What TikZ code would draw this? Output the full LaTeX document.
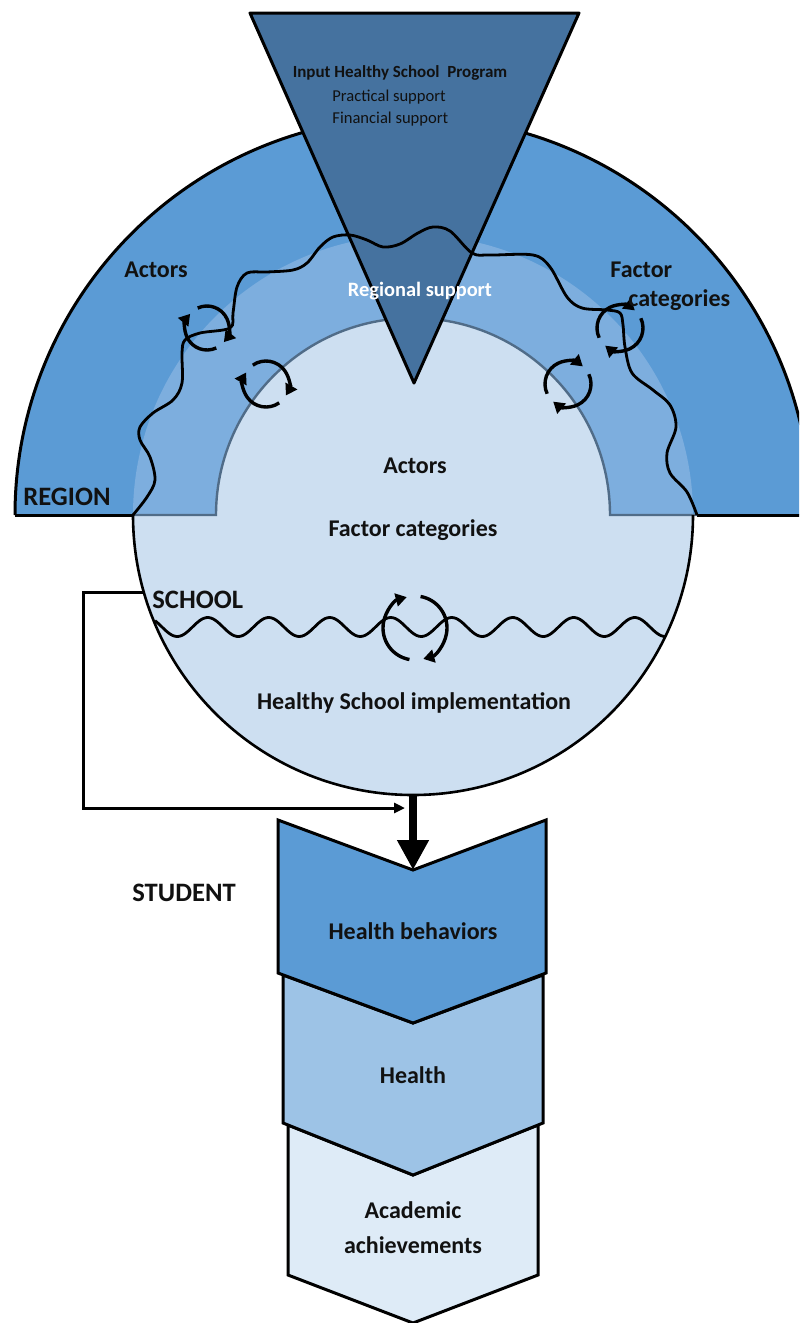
\documentclass[tikz,border=0pt]{standalone}
\usepackage{fontspec}
\setmainfont{Carlito}
\usetikzlibrary{arrows.meta,calc}
\definecolor{regionblue}{HTML}{5B9BD5}
\definecolor{triblue}{HTML}{45729F}
\definecolor{bandblue}{HTML}{7DAEDE}
\definecolor{lightfill}{HTML}{CDDFF1}
\definecolor{chevtwo}{HTML}{9DC3E6}
\definecolor{chevthree}{HTML}{DEEBF7}
\definecolor{innerline}{HTML}{506C88}
\definecolor{txt}{HTML}{111111}
\newcommand{\rotarrows}[4]{%
  \draw[cyc] (#1,#2) ++({#4+100}:#3) arc[start angle={#4+100}, end angle={#4+255}, radius=#3];
  \draw[cyc] (#1,#2) ++({#4+280}:#3) arc[start angle={#4+280}, end angle={#4+435}, radius=#3];
}
\begin{document}
\begin{tikzpicture}[x=0.5pt,y=-0.5pt,
  outline/.style={draw=black, line width=1.5pt, line join=round},
  cyc/.style={line width=1.7pt, -{Triangle[length=5.5pt,width=6.5pt]}},
  wavy/.style={line width=1.4pt},
  lab/.style={font=\bfseries\fontsize{12}{14}\selectfont, text=txt, inner sep=0pt},
  caplab/.style={font=\bfseries\fontsize{13.3}{15}\selectfont, text=txt, inner sep=0pt},
  smalllab/.style={font=\fontsize{8.3}{10}\selectfont, text=txt, inner sep=0pt},
  smallbold/.style={font=\bfseries\fontsize{8.5}{10}\selectfont, text=txt, inner sep=0pt},
  chevron/.style={draw=black, line width=1.5pt, line join=miter}
]
\useasboundingbox (0,0) rectangle (799,1323);
\fill[white] (0,0) rectangle (799,1323);

\begin{scope}
\clip (0,0) rectangle (799,1323);
% outer region half disc
\fill[regionblue] (15,515) arc[start angle=180, end angle=360, radius=398] -- cycle;
% band
\fill[bandblue] (133,515) arc[start angle=180, end angle=360, radius=280] -- cycle;
% inner disc
\fill[lightfill] (216,515) arc[start angle=180, end angle=360, radius=197] -- cycle;
% lower school disc
\fill[lightfill] (133,515) arc[start angle=180, end angle=0, radius=280] -- cycle;
% outlines
\draw[line width=1.5pt] (15,515) arc[start angle=180, end angle=360, radius=398];
\draw[line width=1.5pt] (15,515) -- (133,515);
\draw[line width=1.5pt] (697,515) -- (812,515);
\draw[innerline, line width=1.2pt] (133,515) -- (216,515) arc[start angle=180, end angle=360, radius=197] -- (697,515);
\draw[line width=1.3pt] (133,515) arc[start angle=180, end angle=0, radius=280];
\end{scope}

% triangle
\draw[outline, fill=triblue] (250,13) -- (579,13) -- (414,383) -- cycle;

% region wavy line
\draw[wavy] plot[smooth, tension=0.55] coordinates {(133,515) (147,497) (155,480) (150,457) (140,440) (140,427) (153,413) (173,400) (182,383) (182,353) (185,340) (200,333) (230,328) (233,313) (237,287) (247,273) (267,272) (293,270) (307,263) (320,247) (333,237) (350,235) (367,240) (383,247) (400,244) (418,233) (433,227) (450,231) (472,253) (490,255) (533,255) (550,267) (567,297) (582,308) (607,310) (620,313) (623,325) (625,347) (632,373) (653,390) (670,405) (676,427) (667,453) (670,473) (687,492) (697,515)};

% school wavy line
\draw[wavy] plot[domain=155:666, samples=220, smooth] (\x, {627 + 9.5*sin(5.9016*(\x-162))});

% rotating arrows
\rotarrows{207}{328}{22}{-35}
\rotarrows{266}{384}{23}{-45}
\rotarrows{620}{328}{23}{55}
\rotarrows{568}{384}{23}{55}
\rotarrows{415}{628}{32}{0}

% texts
\node[smallbold] (input) at (400,73) {Input Healthy School\ \ Program};
\node[smalllab, anchor=west] (practical) at (332,97) {Practical support};
\node[smalllab, anchor=west] (financial) at (332,119) {Financial support};
\node[lab] (ractors) at (156,270) {Actors};
\node[lab, anchor=west] (rfactor) at (610,270) {Factor};
\node[lab, anchor=west] (rcat) at (628,300) {categories};
\node[font=\bfseries\fontsize{10.2}{12}\selectfont, text=white, inner sep=0pt] (regsup) at (420,291) {Regional support};
\node[caplab, anchor=west] (region) at (23,497) {REGION};
\node[lab] (iactors) at (415,466) {Actors};
\node[lab] (ifactor) at (413,530) {Factor categories};
\node[caplab, anchor=west] (school) at (152,600) {SCHOOL};
\node[lab] (impl) at (414,703) {Healthy School implementation};
\node[caplab, anchor=west] (student) at (132,893) {STUDENT};

% chevrons
\draw[chevron, fill=chevthree] (288,1125) -- (413,1175) -- (538,1125) -- (538,1275) -- (413,1323) -- (288,1275) -- cycle;
\draw[chevron, fill=chevtwo] (283,975) -- (413,1023) -- (543,975) -- (543,1123) -- (413,1175) -- (283,1123) -- cycle;
\draw[chevron, fill=regionblue] (278,820) -- (413,870) -- (546,820) -- (546,973) -- (413,1023) -- (278,973) -- cycle;
\coordinate (notch) at (413,870);
\coordinate (circbot) at (413,795);
\node[lab] (hb) at (413,931) {Health behaviors};
\node[lab] (health) at (413,1075) {Health};
\node[lab, align=center, font=\bfseries\fontsize{12}{17.5}\selectfont] (acad) at (413,1228) {Academic\\achievements};

% arrows
\coordinate (fbstart) at (143,592);
\coordinate (fbcorner) at (83,808);
\coordinate (fbend) at (405,808);
\draw[line width=1.5pt, -{Triangle[length=5.5pt,width=5pt]}] (fbstart) -| (fbcorner) -- (fbend);
\draw[line width=4pt, -{Triangle[length=15pt,width=15pt]}] (circbot) -- (notch);
\end{tikzpicture}
\end{document}
